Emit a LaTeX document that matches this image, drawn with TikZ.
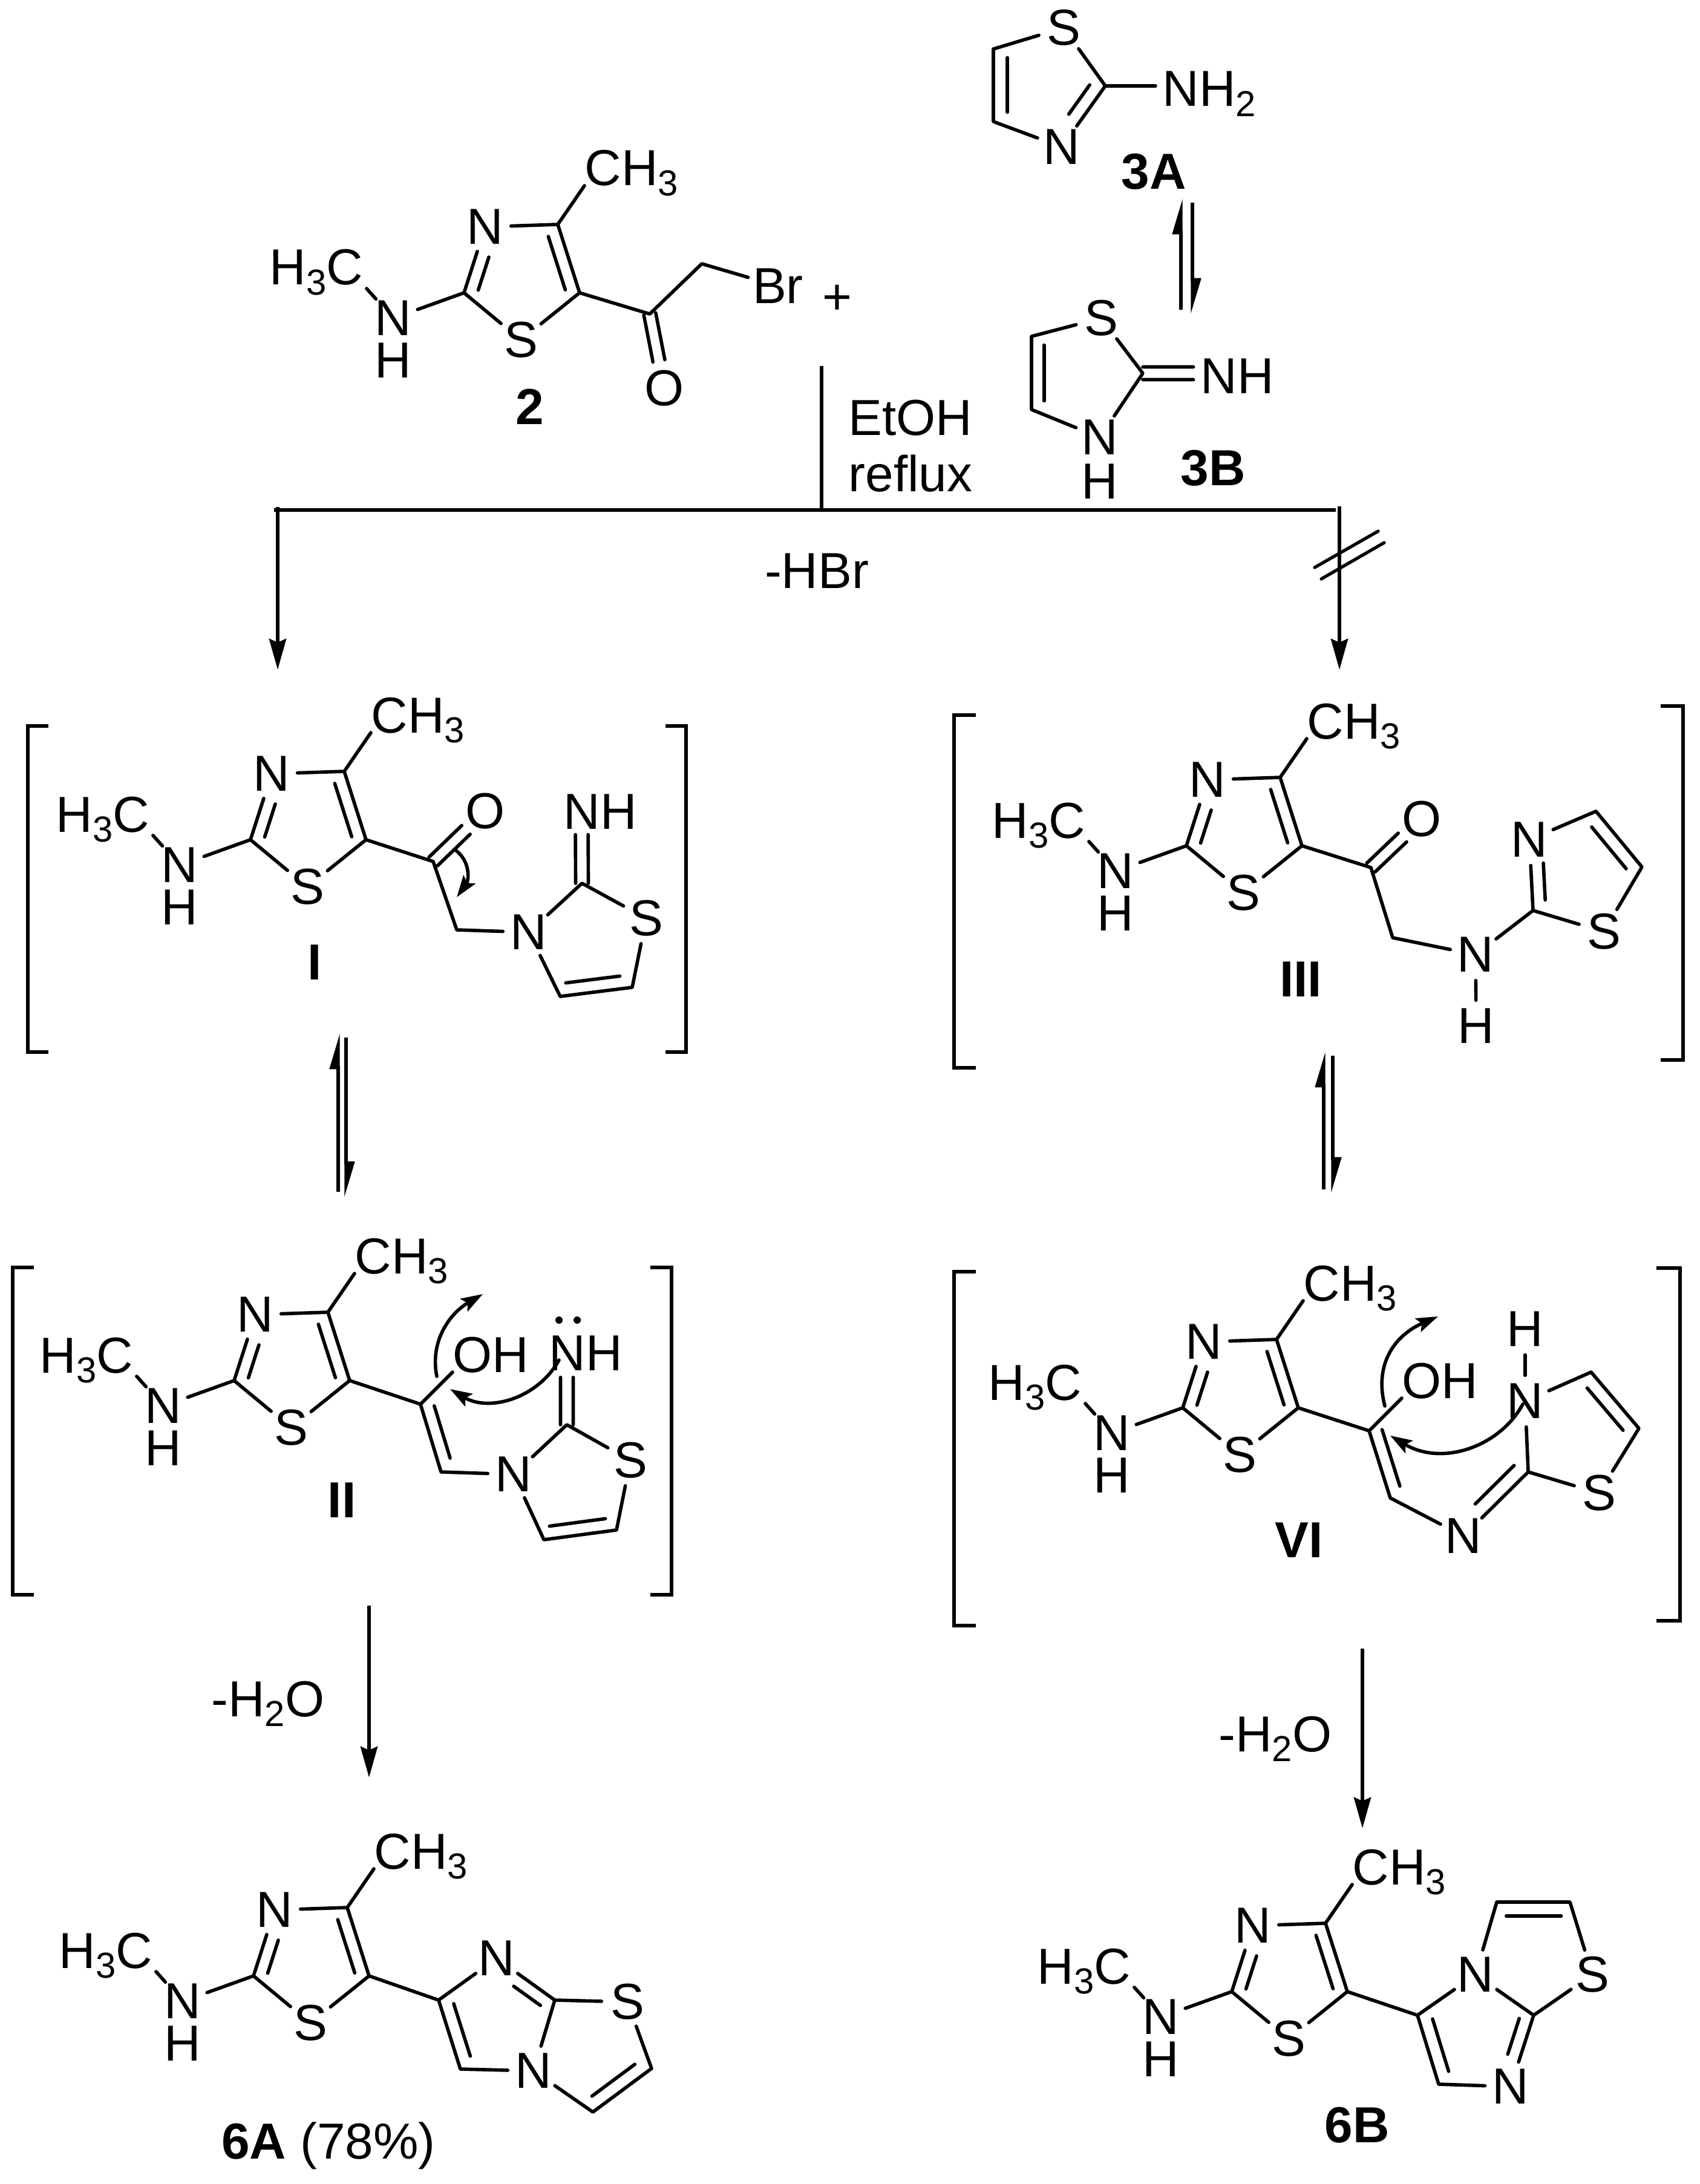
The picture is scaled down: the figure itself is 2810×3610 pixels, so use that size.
\documentclass[tikz,border=0pt]{standalone}
\usepackage{fontspec}
\setmainfont{Liberation Sans}
\usetikzlibrary{arrows.meta,calc}
\newcommand\chemfont{\fontsize{23.8}{28}\selectfont}
\newcommand\chemsub[1]{\raisebox{-0.2em}{\fontsize{17}{17}\selectfont #1}}
\tikzset{
  bond/.style={line width=1.6pt,line cap=round,line join=round},
  rule/.style={line width=1.7pt},
  hash/.style={line width=1.5pt,line cap=round},
  atom/.style={circle,inner sep=0pt,minimum size=0.84cm,font=\chemfont},
  formula/.style={inner sep=0pt,anchor=base west,font=\chemfont},
  caption/.style={inner sep=0pt,anchor=base,font=\chemfont\bfseries},
  plain/.style={inner sep=0pt,font=\chemfont},
  bracket/.style={line width=1.7pt,line join=miter},
  rxn/.style={rule,-{Stealth[length=0.51cm,width=0.28cm,inset=0.06cm]}},
  eqm/.style={line width=1.5pt,-{Stealth[harpoon,length=0.5cm,width=0.28cm,inset=0pt]}},
  curly/.style={line width=1.6pt,line cap=round,-{Stealth[length=0.36cm,width=0.24cm,inset=0.07cm]}},
}
% inner line of a double bond, or one of a pair
\newcommand\offb[6][0.21cm]{\draw[bond] ($(#2)!#4!(#3)!#1!#6:(#3)$) -- ($(#2)!#5!(#3)!#1!#6:(#3)$);}
% methylaminomethylthiazole fragment, anchored on C5
\newcommand\amthz[3]{%
  \begin{scope}[shift={(#2,#3)}]
    \coordinate (#1C5) at (0,0);
    \coordinate (#1C4) at (-36,-113);
    \coordinate (#1C2) at (-191,0);
    \node[atom] (#1N3) at (-156,-109) {N};
    \node[atom] (#1S) at (-97,78) {S};
    \node[atom] (#1N) at (-308,42) {N};
    \node[atom] (#1H) at (-308,112) {H};
    \node[formula] (#1Me) at (8,-177) {CH\chemsub{3}};
    \node[formula] (#1Mf) at (-513,-13) {H\chemsub{3}C};
  \end{scope}
  \draw[bond] (#1C4) -- (#1C5) -- (#1S) -- (#1C2) -- (#1N3) -- (#1C4);
  \offb{#1C4}{#1C5}{.12}{.9}{-90}
  \offb{#1C2}{#1N3}{.1}{.6}{-90}
  \draw[bond] (#1C2) -- (#1N);
  \draw[bond,shorten <=0.08cm] (#1Mf.base east) -- (#1N);
  \draw[bond] (#1C4) -- (#1Me.base west);
}
\newcommand\eqpair[7]{%
  \coordinate (#1ub) at (#2,#3); \coordinate (#1ut) at (#2,#4);
  \coordinate (#1ds) at (#5,#6); \coordinate (#1de) at (#5,#7);
  \draw[eqm] (#1ub) -- (#1ut);
  \draw[eqm] (#1ds) -- (#1de);
}
\newcommand\brk[5]{%
  \coordinate (#1a) at (#3,#4); \coordinate (#1b) at (#2,#4);
  \coordinate (#1c) at (#2,#5); \coordinate (#1d) at (#3,#5);
  \draw[bracket] (#1a) -- (#1b) -- (#1c) -- (#1d);
}
\begin{document}
\begin{tikzpicture}[x=0.01cm,y=-0.01cm]
\fill[white] (0,0) rectangle (2810,3610);
\useasboundingbox (0,0) rectangle (2810,3610);

% ---------- 2
\amthz{a}{958}{484}
\coordinate (aC6) at (1074,519);
\coordinate (aC7) at (1160,436);
\node[atom] (aO) at (1098,642) {O};
\node[atom] (aBr) at (1286,473) {Br};
\draw[bond] (aC5) -- (aC6) -- (aC7) -- (aBr);
\offb[0.1cm]{aC6}{aO}{0}{.63}{90}
\offb[0.1cm]{aC6}{aO}{0}{.63}{-90}
\node[plain] (plus) at (1384,495) {+};
\node[caption] (lab2) at (876,702) {2};

% ---------- 3A
\node[atom] (tS) at (1758,46) {S};
\node[atom] (tN) at (1755,243) {N};
\coordinate (tC5) at (1642,81);
\coordinate (tC4) at (1642,201);
\coordinate (tC2) at (1827,142);
\node[formula] (tNH) at (1921,176) {NH\chemsub{2}};
\draw[bond] (tS) -- (tC5) -- (tC4) -- (tN) -- (tC2) -- (tS);
\offb[0.23cm]{tC5}{tC4}{.12}{.87}{90}
\offb[0.22cm]{tC2}{tN}{.11}{.59}{-90}
\draw[bond,shorten >=0.11cm] (tC2) -- (tC2 -| tNH.west);
\node[caption] (lab3A) at (1907,313) {3A};

\eqpair{p}{1952}{512}{328}{1971}{335}{519}

% ---------- 3B
\node[atom] (bS) at (1820,526) {S};
\node[atom] (bN) at (1818,723) {N};
\node[atom] (bH) at (1818,796) {H};
\coordinate (bC5) at (1705,556);
\coordinate (bC4) at (1705,677);
\coordinate (bC2) at (1889,617);
\node[formula] (bNH) at (1984,651) {NH};
\coordinate (bNHw) at (bC2 -| bNH.west);
\draw[bond] (bS) -- (bC5) -- (bC4) -- (bN) -- (bC2) -- (bS);
\offb{bC5}{bC4}{.12}{.88}{90}
\offb[0.105cm]{bC2}{bNHw}{0}{.88}{90}
\offb[0.105cm]{bC2}{bNHw}{0}{.88}{-90}
\node[caption] (lab3B) at (2005,803) {3B};

% ---------- reaction lines
\coordinate (vt) at (1358,605);
\coordinate (vb) at (1358,842);
\coordinate (jL) at (453,843);
\coordinate (jR) at (2208,843);
\coordinate (lt) at (459,838);
\coordinate (le) at (459,1107);
\coordinate (rt) at (2214,837);
\coordinate (re) at (2214,1107);
\draw[rule] (vt) -- (vb);
\draw[rule] (jL) -- (jR);
\draw[rxn] (lt) -- (le);
\draw[rxn] (rt) -- (re);
\coordinate (h1a) at (2173,938); \coordinate (h1b) at (2278,878);
\coordinate (h2a) at (2184,957); \coordinate (h2b) at (2288,897);
\draw[hash] (h1a) -- (h1b);
\draw[hash] (h2a) -- (h2b);
\node[formula] (etoh) at (1402,720) {EtOH};
\node[formula] (reflux) at (1402,813) {reflux};
\node[plain,anchor=base] (hbr) at (1350,972) {-HBr};

% ---------- I
\brk{ib1}{46}{80}{1200}{1739}
\brk{ib2}{1134}{1100}{1200}{1739}
\amthz{i}{605}{1388}
\coordinate (iC6) at (716,1424);
\coordinate (iC7) at (755,1537);
\node[atom] (iO) at (802,1341) {O};
\node[atom] (iN1) at (874,1541) {N};
\node[atom] (iS1) at (1068,1518) {S};
\coordinate (iC2a) at (962,1460);
\coordinate (iC5a) at (1045,1632);
\coordinate (iC4a) at (926,1647);
\node[formula] (iNH) at (931,1370) {NH};
\coordinate (iNHn) at ($(iNH.south west)!0.25!(iNH.south east)$);
\draw[bond] (iC5) -- (iC6) -- (iC7) -- (iN1) -- (iC2a) -- (iS1) -- (iC5a) -- (iC4a) -- (iN1);
\offb[0.1cm]{iC6}{iO}{0}{.63}{90}
\offb[0.1cm]{iC6}{iO}{0}{.63}{-90}
\offb[0.105cm]{iC2a}{iNHn}{0}{.9}{90}
\offb[0.105cm]{iC2a}{iNHn}{0}{.9}{-90}
\offb{iC4a}{iC5a}{.1}{.85}{90}
\coordinate (ic1) at (754,1406);
\coordinate (ic2) at (755,1483);
\draw[curly] (ic1) .. controls (778,1425) and (775,1455) .. (ic2);
\node[caption] (labI) at (520,1619) {I};

\eqpair{q}{559}{1970}{1708}{572}{1715}{1979}

% ---------- II
\brk{iib1}{21}{56}{2095}{2636}
\brk{iib2}{1110}{1075}{2095}{2636}
\amthz{j}{578}{2282}
\coordinate (jC6) at (695,2321);
\coordinate (jC7) at (729,2433);
\node[formula] (jOH) at (748,2268) {OH};
\node[atom] (jN1) at (849,2437) {N};
\node[atom] (jS1) at (1042,2414) {S};
\coordinate (jC2a) at (937,2355);
\coordinate (jC5a) at (1019,2529);
\coordinate (jC4a) at (899,2545);
\node[formula] (jNH) at (907,2265) {NH};
\coordinate (jNHn) at (937,2265);
\draw[bond] (jC5) -- (jC6) -- (jC7) -- (jN1) -- (jC2a) -- (jS1) -- (jC5a) -- (jC4a) -- (jN1);
\draw[bond] (jC6) -- (jOH.base west);
\offb{jC6}{jC7}{.08}{.85}{90}
\offb[0.105cm]{jC2a}{jNHn}{0}{.87}{90}
\offb[0.105cm]{jC2a}{jNHn}{0}{.87}{-90}
\offb{jC4a}{jC5a}{.1}{.87}{90}
\fill (924,2182) circle (6);
\fill (954,2182) circle (6);
\coordinate (jc1) at (722,2275); \coordinate (jc2) at (798,2139);
\coordinate (jc3) at (924,2248); \coordinate (jc4) at (744,2296);
\draw[curly] (jc1) .. controls (710,2215) and (745,2170) .. (jc2);
\draw[curly] (jc3) .. controls (890,2310) and (810,2335) .. (jc4);
\node[caption] (labII) at (565,2508) {II};

% ---------- II to 6A
\coordinate (sa) at (610,2654);
\coordinate (ea) at (610,2938);
\draw[rxn] (sa) -- (ea);
\node[plain,anchor=base east] (wa) at (537,2837) {-H\chemsub{2}O};

% ---------- III
\brk{kb1}{1577}{1613}{1182}{1765}
\brk{kb2}{2782}{2745}{1167}{1752}
\amthz{k}{2152}{1398}
\coordinate (kC6) at (2266,1434);
\coordinate (kC7) at (2302,1550);
\node[atom] (kO) at (2350,1354) {O};
\node[atom] (kN1) at (2439,1578) {N};
\node[atom] (kH1) at (2440,1696) {H};
\coordinate (kC2a) at (2534,1505);
\node[atom] (kN3) at (2528,1388) {N};
\coordinate (kC4a) at (2638,1341);
\coordinate (kC5a) at (2714,1433);
\node[atom] (kS1) at (2651,1540) {S};
\draw[bond] (kC5) -- (kC6) -- (kC7) -- (kN1) -- (kC2a) -- (kN3) -- (kC4a) -- (kC5a) -- (kS1) -- (kC2a);
\draw[bond] (kN1) -- (kH1);
\offb[0.1cm]{kC6}{kO}{0}{.62}{90}
\offb[0.1cm]{kC6}{kO}{0}{.62}{-90}
\offb{kC2a}{kN3}{.14}{.66}{-90}
\offb[0.22cm]{kC4a}{kC5a}{.13}{.88}{-90}
\node[caption] (labIII) at (2150,1647) {III};

\eqpair{r}{2188}{1966}{1738}{2203}{1745}{1972}

% ---------- VI
\brk{mb1}{1577}{1613}{2102}{2687}
\brk{mb2}{2777}{2738}{2096}{2679}
\amthz{m}{2146}{2327}
\coordinate (mC6) at (2263,2365);
\coordinate (mC7) at (2298,2476);
\node[formula] (mOH) at (2317,2311) {OH};
\node[atom] (mN1) at (2419,2539) {N};
\coordinate (mC2a) at (2526,2433);
\node[atom] (mN3) at (2521,2316) {N};
\node[atom] (mH1) at (2521,2197) {H};
\coordinate (mC4a) at (2630,2268);
\coordinate (mC5a) at (2709,2361);
\node[atom] (mS1) at (2643,2468) {S};
\draw[bond] (mC5) -- (mC6) -- (mC7) -- (mN1) -- (mC2a) -- (mN3) -- (mC4a) -- (mC5a) -- (mS1) -- (mC2a);
\draw[bond] (mN3) -- (mH1);
\draw[bond] (mC6) -- (mOH.base west);
\offb{mC6}{mC7}{.04}{.88}{90}
\offb[0.24cm]{mC2a}{mN1}{.06}{.66}{-90}
\offb[0.22cm]{mC4a}{mC5a}{.13}{.88}{-90}
\coordinate (mc1) at (2289,2324); \coordinate (mc2) at (2377,2176);
\coordinate (mc3) at (2517,2321); \coordinate (mc4) at (2298,2373);
\draw[curly] (mc1) .. controls (2270,2250) and (2310,2205) .. (mc2);
\draw[curly] (mc3) .. controls (2480,2390) and (2385,2425) .. (mc4);
\node[caption] (labVI) at (2147,2574) {VI};

% ---------- VI to 6B
\coordinate (sb) at (2252,2725);
\coordinate (eb) at (2252,3022);
\draw[rxn] (sb) -- (eb);
\node[plain,anchor=base east] (wb) at (2202,2895) {-H\chemsub{2}O};

% ---------- 6A
\amthz{n}{610}{3266}
\coordinate (nC6) at (725,3306);
\node[atom] (nN1) at (821,3237) {N};
\coordinate (nC8) at (917,3306);
\node[atom] (nS1) at (1037,3309) {S};
\coordinate (nC7) at (1077,3419);
\coordinate (nC9) at (980,3491);
\node[atom] (nN2) at (882,3423) {N};
\coordinate (nCH) at (761,3420);
\draw[bond] (nC5) -- (nC6) -- (nN1) -- (nC8) -- (nS1) -- (nC7) -- (nC9) -- (nN2) -- (nCH) -- (nC6);
\draw[bond] (nN2) -- (nC8);
\offb{nC8}{nN1}{.12}{.58}{90}
\offb[0.22cm]{nC7}{nC9}{.15}{.88}{-90}
\offb[0.22cm]{nC6}{nCH}{.11}{.87}{90}
\node[caption] (lab6A) at (543,3568) {6A \normalfont\chemfont(78\%)};

% ---------- 6B
\amthz{o}{2227}{3292}
\coordinate (oC6) at (2343,3331);
\node[atom] (oN1) at (2439,3264) {N};
\coordinate (oC8) at (2535,3331);
\node[atom] (oS1) at (2632,3264) {S};
\coordinate (oC9) at (2595,3144);
\coordinate (oC7) at (2474,3144);
\node[atom] (oN2) at (2497,3449) {N};
\coordinate (oCH) at (2378,3445);
\draw[bond] (oC5) -- (oC6) -- (oN1) -- (oC8) -- (oS1) -- (oC9) -- (oC7) -- (oN1);
\draw[bond] (oC8) -- (oN2) -- (oCH) -- (oC6);
\offb[0.23cm]{oC7}{oC9}{.13}{.88}{-90}
\offb{oC8}{oN2}{.1}{.6}{-90}
\offb[0.22cm]{oC6}{oCH}{.11}{.87}{90}
\node[caption] (lab6B) at (2243,3541) {6B};
\end{tikzpicture}
\end{document}
